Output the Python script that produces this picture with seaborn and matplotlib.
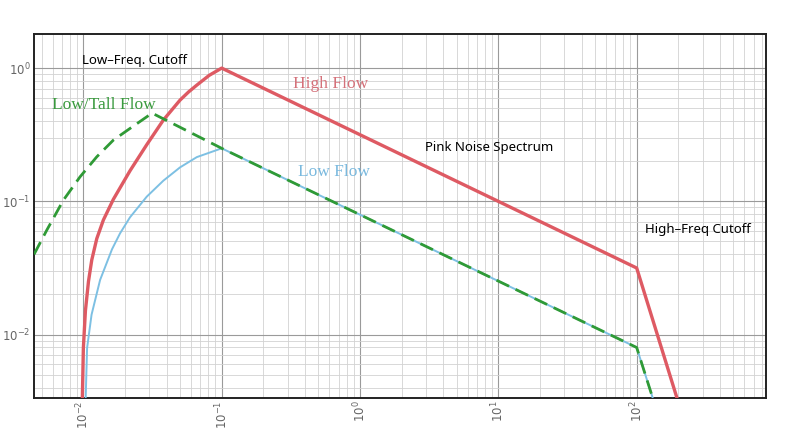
import numpy as np
import pandas as pd
import matplotlib
matplotlib.use("Agg")
import matplotlib.pyplot as plt
import matplotlib.ticker as mticker
import seaborn as sns

# values (frequency vs. relative level, log-log)
high_x = [0.00982, 0.0100, 0.01035, 0.01089, 0.01150, 0.01250, 0.01395, 0.01647,
          0.02175, 0.02872, 0.03786, 0.0500, 0.0575, 0.06601, 0.0813, 0.1,
          100.0, 200.0]
high_y = [0.00316, 0.00794, 0.01514, 0.0251, 0.0363, 0.0525, 0.0724, 0.1035,
          0.1698, 0.2661, 0.4074, 0.5754, 0.661, 0.7447, 0.883, 1.0,
          0.0316, 0.0031]

low_x = [0.01038, 0.01064, 0.01146, 0.01321, 0.01611, 0.01841, 0.02173, 0.02871,
         0.03786, 0.0500, 0.0661, 0.1, 100.0, 135.0]
low_y = [0.0032, 0.00794, 0.0141, 0.0257, 0.0437, 0.0575, 0.0759, 0.1084,
         0.1429, 0.1799, 0.2148, 0.25, 0.0080, 0.003]

tall_x = [0.00440, 0.00544, 0.00717, 0.00946, 0.0125, 0.01647, 0.02175, 0.02872,
          0.03138, 0.1, 100.0, 135.0]
tall_y = [0.0400, 0.0608, 0.1021, 0.1527, 0.2159, 0.288, 0.3526, 0.4309,
          0.4594, 0.25, 0.0080, 0.003]

RED = "#de5a63"
BLUE = "#7dc0e3"
GREEN = "#2f9a36"

sns.set_style("whitegrid")
plt.rcParams["font.family"] = ["DejaVu Sans"]

fig = plt.figure(figsize=(8, 4.32), dpi=100)
ax = fig.add_axes([0.043, 0.079, 0.914, 0.842])

sns.lineplot(x=high_x, y=high_y, ax=ax, color=RED, linewidth=2.4,
             estimator=None, sort=False, zorder=3)
sns.lineplot(x=low_x, y=low_y, ax=ax, color=BLUE, linewidth=1.4,
             estimator=None, sort=False, zorder=3)
sns.lineplot(x=tall_x, y=tall_y, ax=ax, color=GREEN, linewidth=2.0,
             linestyle=(0, (5, 2.6)), estimator=None, sort=False, zorder=4)

ax.set_xscale("log")
ax.set_yscale("log")
ax.set_xlim(10 ** -2.354, 10 ** 2.932)
ax.set_ylim(10 ** -2.475, 10 ** 0.255)

ax.xaxis.set_major_locator(mticker.LogLocator(base=10, numticks=10))
ax.yaxis.set_major_locator(mticker.LogLocator(base=10, numticks=10))
ax.xaxis.set_minor_locator(mticker.LogLocator(base=10, subs=np.arange(2, 10), numticks=20))
ax.yaxis.set_minor_locator(mticker.LogLocator(base=10, subs=np.arange(2, 10), numticks=20))
ax.xaxis.set_minor_formatter(mticker.NullFormatter())
ax.yaxis.set_minor_formatter(mticker.NullFormatter())

ax.grid(True, which="major", color="#9a9a9a", linewidth=0.8)
ax.grid(True, which="minor", color="#d2d2d2", linewidth=0.6)
ax.set_axisbelow(True)

ax.tick_params(axis="both", which="both", length=0, colors="#666666", labelsize=8.5)
ax.tick_params(axis="x", pad=2)
ax.tick_params(axis="y", pad=3)
for lab in ax.get_xticklabels():
    lab.set_rotation(90)

for side in ax.spines.values():
    side.set_visible(True)
    side.set_color("#222222")
    side.set_linewidth(1.4)

ax.text(0.0098, 1.148, "Low\u2013Freq. Cutoff", fontsize=9.5, family="Noto Sans",
        color="black", ha="left", va="center")
ax.text(0.328, 0.758, "High Flow", fontsize=12.5, family="Liberation Serif",
        color="#d4717a", ha="left", va="center")
ax.text(0.00594, 0.5275, "Low/Tall Flow", fontsize=12.5, family="Liberation Serif",
        color="#3a9a3e", ha="left", va="center")
ax.text(0.356, 0.1656, "Low Flow", fontsize=12.5, family="Liberation Serif",
        color="#7ab9de", ha="left", va="center")
ax.text(2.95, 0.255, "Pink Noise Spectrum", fontsize=9.5, family="Noto Sans",
        color="black", ha="left", va="center")
ax.text(114.4, 0.0618, "High\u2013Freq Cutoff", fontsize=9.5, family="Noto Sans",
        color="black", ha="left", va="center")

ax.set_xlabel("")
ax.set_ylabel("")

fig.savefig("out.png", dpi=100)
